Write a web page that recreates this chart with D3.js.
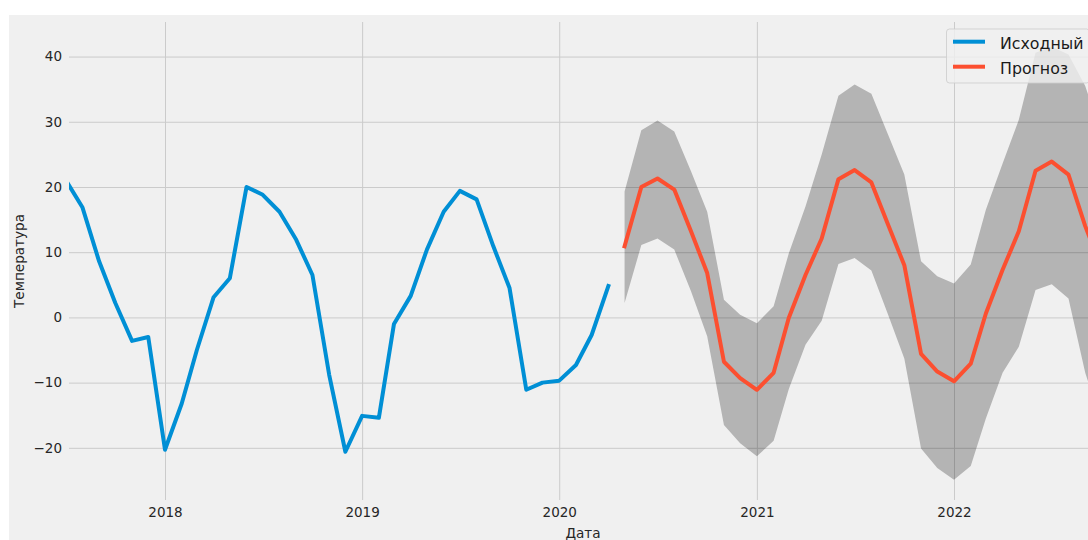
<!DOCTYPE html>
<html>
<head>
<meta charset="utf-8">
<script src="https://cdn.jsdelivr.net/npm/d3@7/dist/d3.min.js"></script>
<style>
  html, body { margin: 0; padding: 0; background: #ffffff; }
  svg { display: block; font-family: "DejaVu Sans", sans-serif; }
</style>
</head>
<body>
<svg id="chart" width="1088" height="540"></svg>
<script>
// Monthly observed temperatures, July 2017 – April 2020
const observedStart = [2017, 6];
const observed = [
  21.1, 16.9, 8.6, 2.2, -3.6, -3.0,
  -20.3, -13.2, -5.0, 3.1, 6.0, 20.0, 18.8, 16.2, 11.9, 6.5, -8.8, -20.6,
  -15.1, -15.4, -1.0, 3.3, 10.4, 16.2, 19.4, 18.1, 10.9, 4.5, -11.1, -10.0,
  -9.7, -7.3, -2.7, 4.8
];

// Forecast from May 2020 with its confidence interval
const forecastStart = [2020, 4];
const forecast = [
  10.9, 20.0, 21.3, 19.6, 13.2, 6.8, -6.8, -9.3,
  -11.1, -8.5, -0.1, 6.5, 12.1, 21.2, 22.6, 20.7, 14.2, 8.0, -5.6, -8.3,
  -9.8, -7.1, 0.6, 7.3, 13.2, 22.5, 23.9, 21.9, 14.0, 7.6
];
const forecastUpper = [
  19.3, 28.7, 30.2, 28.5, 22.4, 16.2, 2.7, 0.4,
  -0.9, 1.7, 9.8, 17.0, 25.0, 34.0, 35.7, 34.3, 28.0, 21.9, 8.6, 6.3,
  5.2, 8.1, 16.5, 23.6, 30.3, 40.6, 41.5, 40.3, 35.5, 28.0
];
const forecastLower = [
  2.2, 11.1, 12.1, 10.4, 4.0, -2.9, -16.5, -19.3,
  -21.3, -18.9, -11.0, -4.2, -0.5, 8.2, 9.1, 7.2, 0.4, -6.3, -20.1, -23.1,
  -24.9, -22.8, -15.5, -8.5, -4.5, 4.2, 5.1, 2.9, -8.5, -16.0
];

const yTicks = [-20, -10, 0, 10, 20, 30, 40];
const xTickYears = [2018, 2019, 2020, 2021, 2022];
const legendLabels = ["Исходный", "Прогноз"];
const xLabel = "Дата";
const yLabel = "Температура";

const colors = { observed: "#008fd5", forecast: "#fc4f30" };

// Build dated series
const monthDate = (start, i) => new Date(start[0], start[1] + i, 1);
const obsData = observed.map((v, i) => ({ date: monthDate(observedStart, i), value: v }));
const fcData = forecast.map((v, i) => ({
  date: monthDate(forecastStart, i), value: v,
  lo: forecastLower[i], hi: forecastUpper[i]
}));

// Layout
const W = 1088, H = 540;
const plot = { left: 69, right: 1097, top: 22, bottom: 500 };

const svg = d3.select("#chart");

// Figure background
svg.append("rect")
  .attr("x", 9).attr("y", 15)
  .attr("width", W - 9).attr("height", H - 15)
  .attr("fill", "#f0f0f0");

// Scales: time axis anchored on the year boundaries
const x = d3.scaleTime()
  .domain([new Date(2018, 0, 1), new Date(2022, 0, 1)])
  .range([165, 954]);
x.domain([x.invert(plot.left), x.invert(plot.right)]).range([plot.left, plot.right]);

const y = d3.scaleLinear()
  .domain([-28, 45.3])
  .range([plot.bottom, plot.top]);

svg.append("defs").append("clipPath").attr("id", "plot-clip")
  .append("rect")
  .attr("x", plot.left).attr("y", plot.top)
  .attr("width", plot.right - plot.left).attr("height", plot.bottom - plot.top);

// Grid + tick labels
const yAxis = svg.append("g")
  .attr("transform", `translate(${plot.left},0)`)
  .call(d3.axisLeft(y).tickValues(yTicks)
    .tickSize(-(plot.right - plot.left)).tickPadding(7)
    .tickFormat(d => d < 0 ? "\u2212" + Math.abs(d) : String(d)));

const xAxis = svg.append("g")
  .attr("transform", `translate(0,${plot.bottom})`)
  .call(d3.axisBottom(x).tickValues(xTickYears.map(yr => new Date(yr, 0, 1)))
    .tickSize(-(plot.bottom - plot.top)).tickPadding(7.5)
    .tickFormat(d3.timeFormat("%Y")));

[yAxis, xAxis].forEach(ax => {
  ax.select(".domain").remove();
  ax.selectAll(".tick line").attr("stroke", "#cbcbcb").attr("stroke-width", 1);
  ax.selectAll(".tick text")
    .attr("fill", "#262626")
    .style("font-size", "13.5px")
    .style("font-family", "'DejaVu Sans', sans-serif");
});

const marks = svg.append("g").attr("clip-path", "url(#plot-clip)");

// Confidence band
marks.append("path")
  .datum(fcData)
  .attr("fill", "#000000")
  .attr("fill-opacity", 0.25)
  .attr("d", d3.area()
    .x(d => x(d.date))
    .y0(d => y(d.lo))
    .y1(d => y(d.hi)));

const line = d3.line().x(d => x(d.date)).y(d => y(d.value));

marks.append("path")
  .datum(obsData)
  .attr("fill", "none")
  .attr("stroke", colors.observed)
  .attr("stroke-width", 4)
  .attr("stroke-linejoin", "round")
  .attr("stroke-linecap", "square")
  .attr("d", line);

marks.append("path")
  .datum(fcData)
  .attr("fill", "none")
  .attr("stroke", colors.forecast)
  .attr("stroke-width", 4)
  .attr("stroke-linejoin", "round")
  .attr("stroke-linecap", "square")
  .attr("d", line);

// Axis titles
svg.append("text")
  .attr("x", (plot.left + plot.right) / 2)
  .attr("y", 538)
  .attr("text-anchor", "middle")
  .attr("fill", "#262626")
  .style("font-size", "13.6px")
  .text(xLabel);

svg.append("text")
  .attr("transform", `translate(24,${(plot.top + plot.bottom) / 2}) rotate(-90)`)
  .attr("text-anchor", "middle")
  .attr("fill", "#262626")
  .style("font-size", "13.6px")
  .text(yLabel);

// Legend
const legend = svg.append("g");
legend.append("rect")
  .attr("x", 946.5).attr("y", 29)
  .attr("width", 143).attr("height", 54)
  .attr("rx", 3)
  .attr("fill", "#f0f0f0").attr("fill-opacity", 0.8)
  .attr("stroke", "#cccccc").attr("stroke-opacity", 0.8).attr("stroke-width", 1);

const legendItems = [
  { label: legendLabels[0], color: colors.observed },
  { label: legendLabels[1], color: colors.forecast }
];
legendItems.forEach((item, i) => {
  const cy = 41.7 + i * 25;
  legend.append("line")
    .attr("x1", 953).attr("x2", 985)
    .attr("y1", cy).attr("y2", cy)
    .attr("stroke", item.color).attr("stroke-width", 4);
  legend.append("text")
    .attr("x", 1000).attr("y", cy + 7.6)
    .attr("fill", "#1a1a1a")
    .style("font-size", "15.8px")
    .text(item.label);
});
</script>
</body>
</html>
